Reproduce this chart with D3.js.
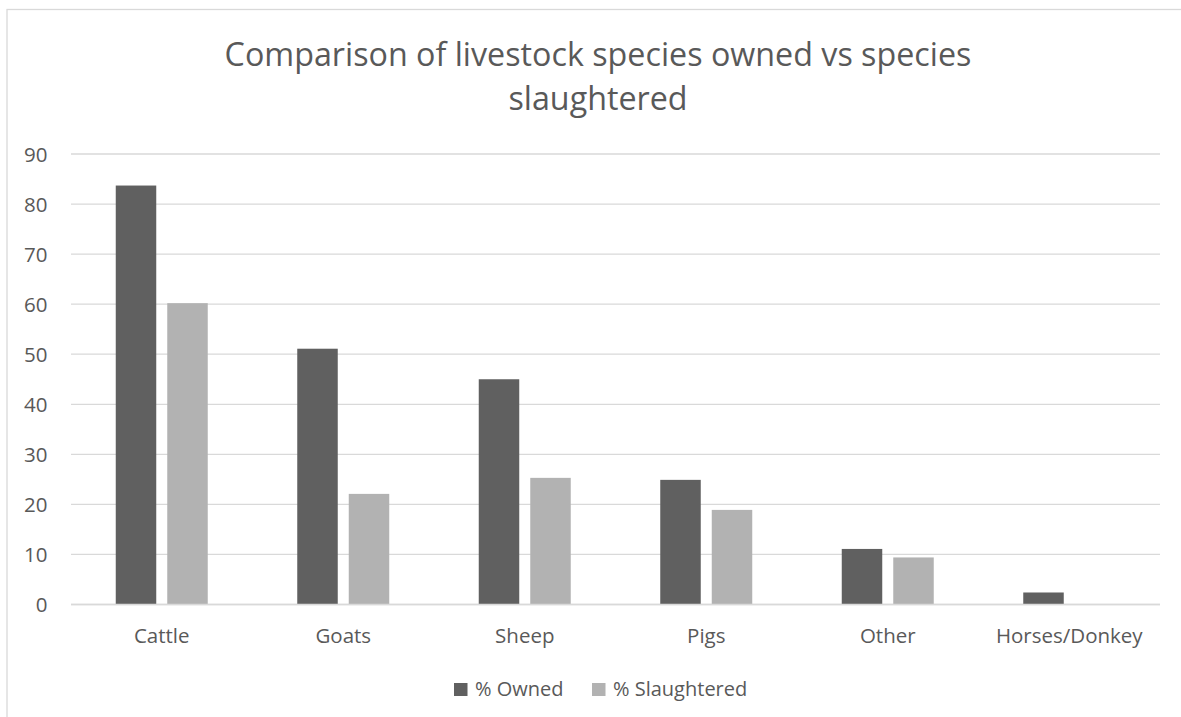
<!DOCTYPE html>
<html>
<head>
<meta charset="utf-8">
<script src="https://cdn.jsdelivr.net/npm/d3@7/dist/d3.min.js"></script>
<style>
  html, body { margin: 0; padding: 0; background: #fff; }
  svg { display: block; }
  text { font-family: "Open Sans", "Noto Sans", sans-serif; fill: #595959; }
</style>
</head>
<body>
<svg id="chart" width="1181" height="717"></svg>
<script>
// Livestock categories and the two percentage series
const categories = ["Cattle", "Goats", "Sheep", "Pigs", "Other", "Horses/Donkey"];
const seriesNames = ["% Owned", "% Slaughtered"];
const owned = [83.7, 51.1, 45.0, 24.9, 11.1, 2.4];
const slaughtered = [60.2, 22.1, 25.3, 18.9, 9.4, 0];
const yTicks = [0, 10, 20, 30, 40, 50, 60, 70, 80, 90];
const titleLines = ["Comparison of livestock species owned vs species", "slaughtered"];

const colors = { "% Owned": "#606060", "% Slaughtered": "#b2b2b2" };
const seriesValues = { "% Owned": owned, "% Slaughtered": slaughtered };

const svg = d3.select("#chart");

// Chart frame
svg.append("rect")
  .attr("x", 7).attr("y", 9.5)
  .attr("width", 1182).attr("height", 720)
  .attr("fill", "none").attr("stroke", "#d9d9d9").attr("stroke-width", 1.3);

// Plot area
const plot = { left: 71, right: 1160, top: 154, bottom: 604.5 };

const x0 = d3.scaleBand().domain(categories).range([plot.left, plot.right]).padding(0);
const x1 = d3.scaleBand().domain(seriesNames).range([0, x0.bandwidth()])
  .paddingInner(0.2136).paddingOuter(0.869);
const y = d3.scaleLinear().domain([0, 90]).range([plot.bottom, plot.top]);

// Horizontal gridlines
svg.append("g").selectAll("line").data(yTicks).join("line")
  .attr("x1", plot.left).attr("x2", plot.right)
  .attr("y1", d => y(d)).attr("y2", d => y(d))
  .attr("stroke", "#d9d9d9").attr("stroke-width", 1.3);

// Y axis labels
const yAxis = d3.axisLeft(y).tickValues(yTicks).tickSize(0).tickPadding(0);
const yg = svg.append("g").attr("transform", `translate(47.5,0)`).call(yAxis);
yg.select(".domain").remove();
yg.selectAll("text")
  .attr("font-size", 20.5)
  .style("font-family", "'Open Sans', sans-serif")
  .attr("fill", "#595959")
  .attr("dy", "0.36em");

// Bars
const groups = svg.append("g").selectAll("g").data(categories).join("g")
  .attr("transform", d => `translate(${x0(d)},0)`);
groups.selectAll("rect")
  .data((c, i) => seriesNames.map(s => ({ s, v: seriesValues[s][i] })))
  .join("rect")
  .filter(d => d.v > 0)
  .attr("x", d => x1(d.s))
  .attr("width", x1.bandwidth())
  .attr("y", d => y(d.v))
  .attr("height", d => y(0) - y(d.v))
  .attr("fill", d => colors[d.s]);

// Zero baseline redrawn on top
svg.append("line")
  .attr("x1", plot.left).attr("x2", plot.right)
  .attr("y1", y(0)).attr("y2", y(0))
  .attr("stroke", "#d9d9d9").attr("stroke-width", 1.3);

// X axis labels
const xAxis = d3.axisBottom(x0).tickSize(0).tickPadding(0);
const xg = svg.append("g").attr("transform", `translate(0,${plot.bottom})`).call(xAxis);
xg.select(".domain").remove();
xg.selectAll("text")
  .attr("font-size", 20.5)
  .style("font-family", "'Open Sans', sans-serif")
  .attr("fill", "#595959")
  .attr("y", 38.2).attr("dy", 0);

// Title, sized so the first line spans its intended width
const title = svg.append("g");
const titleText = title.selectAll("text").data(titleLines).join("text")
  .attr("x", 598)
  .attr("y", (d, i) => 66 + i * 43.5)
  .attr("text-anchor", "middle")
  .attr("font-size", 32)
  .text(d => d);
const w = titleText.nodes()[0].getComputedTextLength();
const fs = 32 * 747 / w;
titleText.attr("font-size", fs);

// Legend
const legendItems = [
  { name: "% Owned", sx: 454, tx: 475 },
  { name: "% Slaughtered", sx: 592, tx: 613 }
];
const legend = svg.append("g");
legend.selectAll("rect").data(legendItems).join("rect")
  .attr("x", d => d.sx).attr("y", 683)
  .attr("width", 13.5).attr("height", 13)
  .attr("fill", d => colors[d.name]);
legend.selectAll("text").data(legendItems).join("text")
  .attr("x", d => d.tx).attr("y", 696)
  .attr("font-size", 20)
  .text(d => d.name);
</script>
</body>
</html>
